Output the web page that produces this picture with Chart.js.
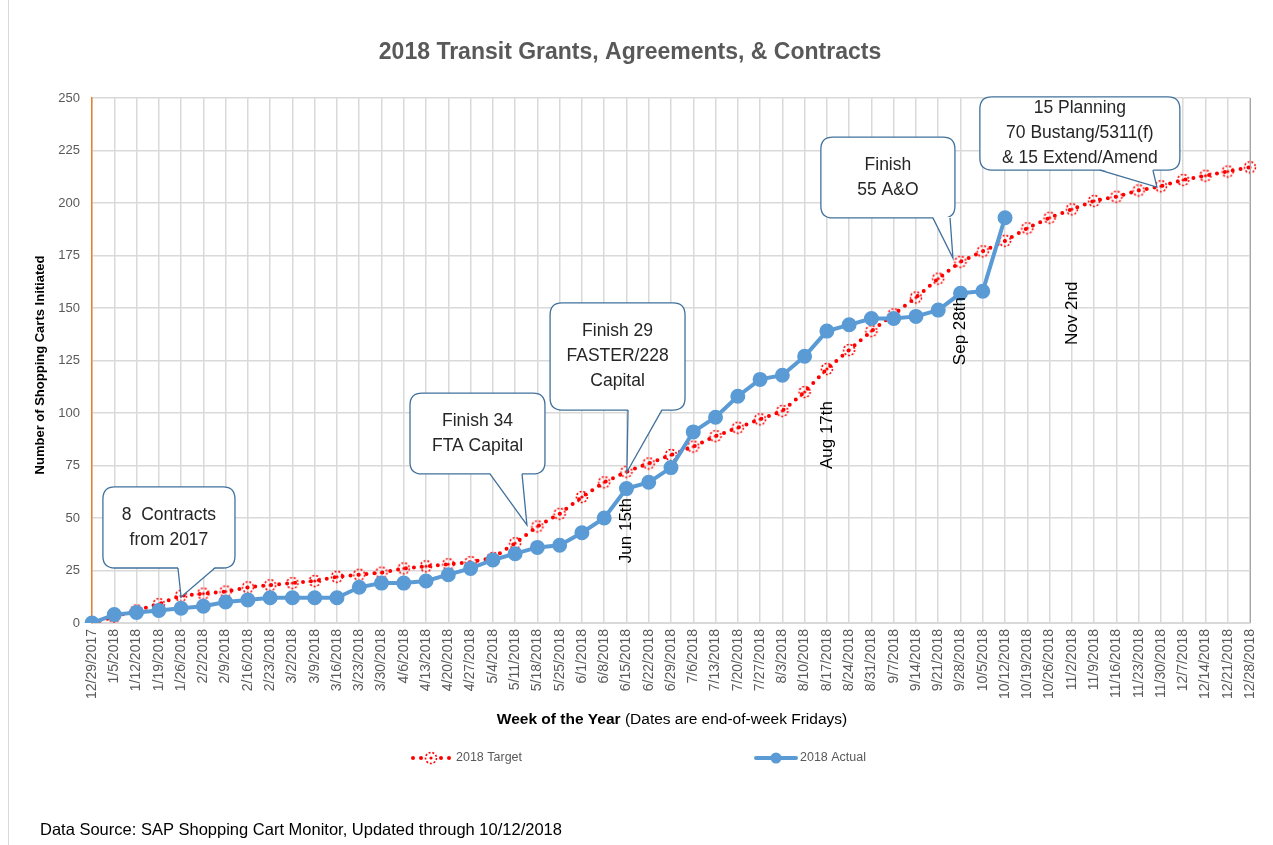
<!DOCTYPE html>
<html>
<head>
<meta charset="utf-8">
<script src="https://cdn.jsdelivr.net/npm/chart.js@4.4.0/dist/chart.umd.min.js"></script>
<style>
  body { margin: 0; background: #fff; }
  #wrap { position: relative; width: 1273px; height: 845px; }
</style>
</head>
<body>
<div id="wrap"><canvas id="myChart"></canvas></div>
<script>
// week ending dates (Fridays)
const weeks = [
  '12/29/2017', '1/5/2018', '1/12/2018', '1/19/2018', '1/26/2018', '2/2/2018', '2/9/2018', '2/16/2018',
  '2/23/2018', '3/2/2018', '3/9/2018', '3/16/2018', '3/23/2018', '3/30/2018', '4/6/2018', '4/13/2018',
  '4/20/2018', '4/27/2018', '5/4/2018', '5/11/2018', '5/18/2018', '5/25/2018', '6/1/2018', '6/8/2018',
  '6/15/2018', '6/22/2018', '6/29/2018', '7/6/2018', '7/13/2018', '7/20/2018', '7/27/2018', '8/3/2018',
  '8/10/2018', '8/17/2018', '8/24/2018', '8/31/2018', '9/7/2018', '9/14/2018', '9/21/2018', '9/28/2018',
  '10/5/2018', '10/12/2018', '10/19/2018', '10/26/2018', '11/2/2018', '11/9/2018', '11/16/2018', '11/23/2018',
  '11/30/2018', '12/7/2018', '12/14/2018', '12/21/2018', '12/28/2018'
];

const target2018 = [
  0, 3, 6, 9, 13, 14, 15, 17, 18, 19, 20, 22, 23, 24, 26, 27,
  28, 29, 31, 38, 46, 52, 60, 67, 72, 76, 80, 84, 89, 93, 97, 101,
  110, 121, 130, 139, 147, 155, 164, 172, 177, 182, 188, 193, 197, 201,
  203, 206, 208, 211, 213, 215, 217
];

const actual2018 = [
  0, 4, 5, 6, 7, 8, 10, 11, 12, 12, 12, 12, 17, 19, 19, 20,
  23, 26, 30, 33, 36, 37, 43, 50, 64, 67, 74, 91, 98, 108, 116, 118,
  127, 139, 142, 145, 145, 146, 149, 157, 158, 193,
  null, null, null, null, null, null, null, null, null, null, null
];

const yTicks = [0, 25, 50, 75, 100, 125, 150, 175, 200, 225, 250];

// callouts: box corners and pointer in (week index, value)
const callouts = [
  { lines: ['8  Contracts', 'from 2017'], x0: 0.49, x1: 6.42, top: 64.8, bottom: 26.2, b0: 3.86, b1: 5.52, tipX: 4.0, tipY: 12.4 },
  { lines: ['Finish 34', 'FTA Capital'], x0: 14.28, x1: 20.34, top: 109.5, bottom: 71, b0: 17.87, b1: 19.31, tipX: 19.53, tipY: 46.7 },
  { lines: ['Finish 29', 'FASTER/228', 'Capital'], x0: 20.57, x1: 26.63, top: 152.4, bottom: 101.4, b0: 24.07, b1: 25.59, tipX: 24.02, tipY: 71.9 },
  { lines: ['Finish', '55 A&O'], x0: 32.73, x1: 38.75, top: 231.4, bottom: 192.9, b0: 37.76, b1: 38.53, tipX: 38.66, tipY: 173.8 },
  { lines: ['15 Planning', '70 Bustang/5311(f)', '& 15 Extend/Amend'], x0: 39.87, x1: 48.85, top: 250.5, bottom: 215.7, b0: 45.26, b1: 47.64, tipX: 47.82, tipY: 207.6 }
];

// vertical date notes
const notes = [
  { text: 'Jun 15th', x: 24, y: 44 },
  { text: 'Aug 17th', x: 33, y: 89.5 },
  { text: 'Sep 28th', x: 39, y: 139 },
  { text: 'Nov 2nd', x: 44, y: 147.5 }
];

const FONT = '"Liberation Sans", Arial, sans-serif';

function dashedRing() {
  const c = document.createElement('canvas');
  c.width = 16; c.height = 16;
  const g = c.getContext('2d');
  g.strokeStyle = '#ff0000';
  g.lineWidth = 1.6;
  g.setLineDash([2, 1.8]);
  g.beginPath();
  g.arc(8, 8, 5.5, 0, Math.PI * 2);
  g.stroke();
  g.setLineDash([]);
  g.fillStyle = '#ff0000';
  g.beginPath();
  g.arc(8, 8, 1.6, 0, Math.PI * 2);
  g.fill();
  return c;
}
const ring = dashedRing();

function roundRect(ctx, x, y, w, h, r) {
  ctx.beginPath();
  ctx.moveTo(x + r, y);
  ctx.lineTo(x + w - r, y);
  ctx.quadraticCurveTo(x + w, y, x + w, y + r);
  ctx.lineTo(x + w, y + h - r);
  ctx.quadraticCurveTo(x + w, y + h, x + w - r, y + h);
  ctx.lineTo(x + r, y + h);
  ctx.quadraticCurveTo(x, y + h, x, y + h - r);
  ctx.lineTo(x, y + r);
  ctx.quadraticCurveTo(x, y, x + r, y);
  ctx.closePath();
}

const decor = {
  id: 'decor',
  afterDatasetsDraw(chart) {
    const ctx = chart.ctx;
    const xs = chart.scales.x, ys = chart.scales.y;
    ctx.save();
    // callouts
    callouts.forEach(c => {
      const l = xs.getPixelForValue(c.x0), r = xs.getPixelForValue(c.x1);
      const t = ys.getPixelForValue(c.top), b = ys.getPixelForValue(c.bottom);
      const bl = xs.getPixelForValue(c.b0), br = xs.getPixelForValue(c.b1);
      const tx = xs.getPixelForValue(c.tipX), ty = ys.getPixelForValue(c.tipY);
      roundRect(ctx, l, t, r - l, b - t, 12);
      ctx.fillStyle = '#fff';
      ctx.fill();
      ctx.strokeStyle = '#41719c';
      ctx.lineWidth = 1.3;
      ctx.stroke();
      // pointer
      ctx.beginPath();
      ctx.moveTo(bl, b - 1);
      ctx.lineTo(tx, ty);
      ctx.lineTo(br, b - 1);
      ctx.closePath();
      ctx.fill();
      ctx.beginPath();
      ctx.moveTo(bl, b);
      ctx.lineTo(tx, ty);
      ctx.lineTo(br, b);
      ctx.stroke();
      ctx.fillStyle = '#262626';
      ctx.font = '17.5px ' + FONT;
      ctx.textAlign = 'center';
      ctx.textBaseline = 'middle';
      const lh = 25, cy = (t + b) / 2, cx = (l + r) / 2;
      c.lines.forEach((s, i) => {
        ctx.fillText(s, cx, cy + (i - (c.lines.length - 1) / 2) * lh);
      });
    });
    // vertical notes
    notes.forEach(n => {
      ctx.save();
      ctx.translate(xs.getPixelForValue(n.x), ys.getPixelForValue(n.y));
      ctx.rotate(-Math.PI / 2);
      ctx.fillStyle = '#000';
      ctx.font = '17px ' + FONT;
      ctx.textAlign = 'center';
      ctx.textBaseline = 'middle';
      ctx.fillText(n.text, 0, 0);
      ctx.restore();
    });
    ctx.restore();
  },
  afterDraw(chart) {
    const ctx = chart.ctx;
    const area = chart.chartArea;
    ctx.save();
    // right plot border
    ctx.strokeStyle = '#a6a6a6';
    ctx.lineWidth = 1;
    ctx.beginPath();
    ctx.moveTo(Math.round(area.right) + 0.5, area.top);
    ctx.lineTo(Math.round(area.right) + 0.5, area.bottom);
    ctx.stroke();
    // outer frame (left edge)
    ctx.strokeStyle = '#d9d9d9';
    ctx.beginPath();
    ctx.moveTo(8.5, 0);
    ctx.lineTo(8.5, 845);
    ctx.stroke();
    // title
    ctx.fillStyle = '#595959';
    ctx.font = 'bold 23px ' + FONT;
    ctx.textAlign = 'center';
    ctx.textBaseline = 'middle';
    ctx.fillText('2018 Transit Grants, Agreements, & Contracts', 630, 53);
    // y title
    ctx.save();
    ctx.translate(40, 365);
    ctx.rotate(-Math.PI / 2);
    ctx.fillStyle = '#000';
    ctx.font = 'bold 13px ' + FONT;
    ctx.fillText('Number of Shopping Carts Initiated', 0, 0);
    ctx.restore();
    // x title (bold + normal)
    const p1 = 'Week of the Year', p2 = ' (Dates are end-of-week Fridays)';
    ctx.font = 'bold 15.5px ' + FONT;
    const w1 = ctx.measureText(p1).width;
    ctx.font = '15.5px ' + FONT;
    const w2 = ctx.measureText(p2).width;
    let x = 672 - (w1 + w2) / 2;
    ctx.textAlign = 'left';
    ctx.fillStyle = '#000';
    ctx.font = 'bold 15.5px ' + FONT;
    ctx.fillText(p1, x, 720);
    ctx.font = '15.5px ' + FONT;
    ctx.fillText(p2, x + w1, 720);
    // legend
    const ly = 758;
    ctx.fillStyle = '#ff0000';
    [413, 421, 441, 449].forEach(dx => {
      ctx.beginPath();
      ctx.arc(dx, ly, 2, 0, Math.PI * 2);
      ctx.fill();
    });
    ctx.drawImage(ring, 431 - 8, ly - 8);
    ctx.strokeStyle = '#5b9bd5';
    ctx.lineWidth = 4;
    ctx.lineCap = 'round';
    ctx.beginPath();
    ctx.moveTo(756, ly);
    ctx.lineTo(796, ly);
    ctx.stroke();
    ctx.fillStyle = '#5b9bd5';
    ctx.beginPath();
    ctx.arc(776, ly, 5.5, 0, Math.PI * 2);
    ctx.fill();
    ctx.fillStyle = '#595959';
    ctx.font = '12.5px ' + FONT;
    ctx.fillText('2018 Target', 456, ly);
    ctx.fillText('2018 Actual', 800, ly);
    // footer
    ctx.fillStyle = '#000';
    ctx.font = '16.5px ' + FONT;
    ctx.fillText('Data Source: SAP Shopping Cart Monitor, Updated through 10/12/2018', 40, 830);
    ctx.restore();
  }
};

const ctx = document.getElementById('myChart').getContext('2d');
const myChart = new Chart(ctx, {
  type: 'line',
  data: {
    labels: weeks,
    datasets: [{
      label: '2018 Target',
      data: target2018,
      borderColor: '#ff0000',
      borderWidth: 4,
      borderDash: [0, 8],
      borderCapStyle: 'round',
      pointStyle: ring,
      pointRadius: 6,
      tension: 0,
      order: 2
    }, {
      label: '2018 Actual',
      data: actual2018,
      borderColor: '#5b9bd5',
      backgroundColor: '#5b9bd5',
      borderWidth: 4,
      pointRadius: 5.5,
      pointBackgroundColor: '#5b9bd5',
      pointBorderColor: '#5b9bd5',
      tension: 0,
      spanGaps: false,
      order: 1
    }]
  },
  options: {
    responsive: true,
    maintainAspectRatio: false,
    animation: false,
    layout: { padding: { top: 98, right: 23, bottom: 122, left: 0 } },
    plugins: {
      legend: { display: false },
      title: { display: false },
      tooltip: { enabled: false }
    },
    scales: {
      x: {
        type: 'category',
        offset: false,
        grid: { color: '#d9d9d9', lineWidth: 1.5, drawTicks: false },
        border: { color: '#d9d9d9' },
        ticks: {
          autoSkip: false,
          maxRotation: 90,
          minRotation: 90,
          padding: 6,
          color: '#595959',
          font: { family: FONT, size: 14 }
        },
        afterFit: s => { s.height = 100; }
      },
      y: {
        min: 0,
        max: 250,
        afterBuildTicks: s => { s.ticks = yTicks.map(v => ({ value: v })); },
        grid: { color: '#d9d9d9', lineWidth: 1.5, drawTicks: false },
        border: { color: '#ed7d31', width: 1.5 },
        ticks: {
          padding: 12,
          color: '#595959',
          font: { family: FONT, size: 13 }
        },
        afterFit: s => { s.width = 92; }
      }
    }
  },
  plugins: [decor]
});
</script>
</body>
</html>
